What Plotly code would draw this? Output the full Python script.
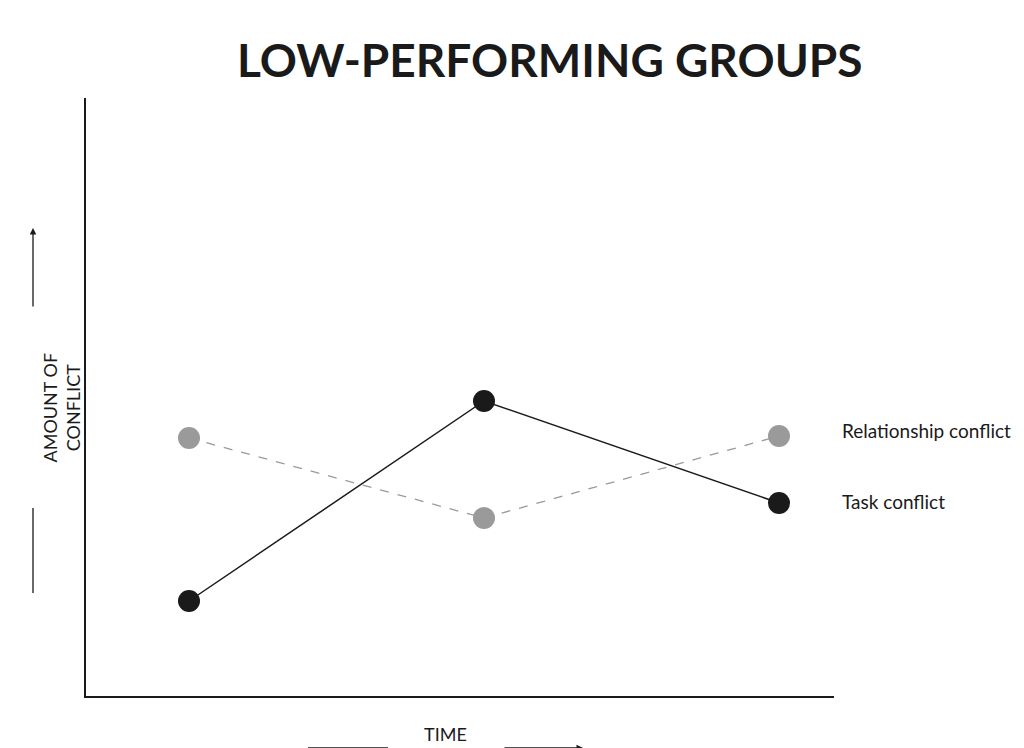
import plotly.graph_objects as go

times = [1, 2, 3]
relationship = [258, 178, 260]
task = [95, 295, 193]
labels = ["Relationship conflict", "Task conflict"]

L, R, T, B = 78, 826, 90, 688


def px(x):
    return (x - L) / (R - L)


def py(y):
    return (B - y) / (B - T)


fig = go.Figure()
fig.add_trace(go.Scatter(x=times, y=relationship, mode="lines+markers",
                         line=dict(color="#9a9a9a", width=1.3, dash="dash"),
                         marker=dict(color="#9a9a9a", size=22), name=labels[0]))
fig.add_trace(go.Scatter(x=times, y=task, mode="lines+markers",
                         line=dict(color="#1a1a1a", width=1.5),
                         marker=dict(color="#1a1a1a", size=22), name=labels[1]))

font = "Lato, Noto Sans, sans-serif"
ann = [
    dict(x=px(542), y=py(22), xref="paper", yref="paper", text="<b>LOW-PERFORMING GROUPS</b>",
         showarrow=False, font=dict(size=46, color="#1a1a1a", family=font)),
    dict(x=px(832), y=relationship[-1] + 6, xref="paper", yref="y", text=labels[0], xanchor="left",
         showarrow=False, font=dict(size=19, color="#1a1a1a", family=font)),
    dict(x=px(832), y=task[-1] + 2, xref="paper", yref="y", text=labels[1], xanchor="left",
         showarrow=False, font=dict(size=19, color="#1a1a1a", family=font)),
    dict(x=px(28), y=py(400), xref="paper", yref="paper", text="AMOUNT OF<br>CONFLICT",
         textangle=-90, showarrow=False, font=dict(size=18, color="#1a1a1a", family=font)),
    dict(x=px(437), y=py(739), xref="paper", yref="paper", text="TIME",
         showarrow=False, font=dict(size=18, color="#1a1a1a", family=font)),
    dict(x=px(575), y=py(740), ax=-80, ay=0, xref="paper", yref="paper",
         text="", showarrow=True, arrowhead=2, arrowwidth=1.3, arrowcolor="#1a1a1a"),
    dict(x=px(25), y=py(220), ax=0, ay=80, xref="paper", yref="paper",
         text="", showarrow=True, arrowhead=2, arrowwidth=1.3, arrowcolor="#1a1a1a"),
]
shapes = [
    dict(type="line", xref="paper", yref="paper", x0=px(300), x1=px(380), y0=py(740), y1=py(740),
         line=dict(color="#1a1a1a", width=1.3)),
    dict(type="line", xref="paper", yref="paper", x0=px(25), x1=px(25), y0=py(500), y1=py(585),
         line=dict(color="#1a1a1a", width=1.3)),
]

fig.update_layout(
    width=1024, height=748, margin=dict(l=L, r=1024 - R, t=T, b=748 - B),
    paper_bgcolor="white", plot_bgcolor="white", showlegend=False,
    annotations=ann, shapes=shapes,
    xaxis=dict(range=[1 - 103 / 295, 3 + 55 / 295], showgrid=False, zeroline=False,
               showticklabels=False, showline=True, linecolor="#1a1a1a", linewidth=1.5),
    yaxis=dict(range=[0, B - T], showgrid=False, zeroline=False,
               showticklabels=False, showline=True, linecolor="#1a1a1a", linewidth=1.5),
)
fig.write_html("out.html")
